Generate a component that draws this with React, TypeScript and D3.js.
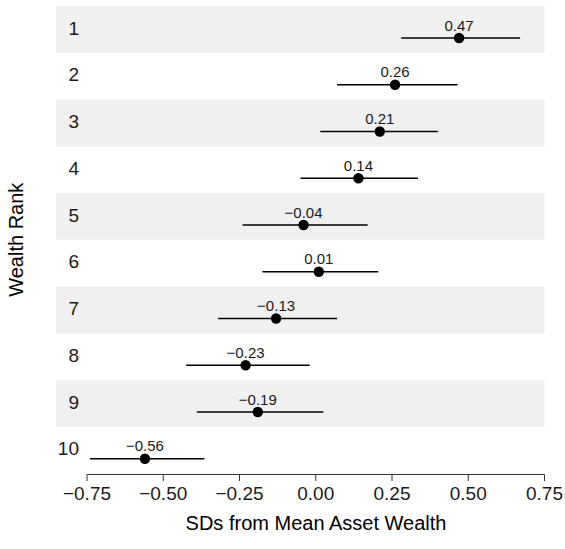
import * as d3 from "d3";

const ranks = ["1", "2", "3", "4", "5", "6", "7", "8", "9", "10"];
const estimates = [0.47, 0.26, 0.21, 0.14, -0.04, 0.01, -0.13, -0.23, -0.19, -0.56];
const lower = [0.28, 0.07, 0.015, -0.05, -0.24, -0.175, -0.32, -0.425, -0.39, -0.74];
const upper = [0.67, 0.465, 0.4, 0.335, 0.17, 0.205, 0.07, -0.02, 0.025, -0.365];
const xTicks = [-0.75, -0.5, -0.25, 0, 0.25, 0.5, 0.75];

const W = 565;
const H = 549;
const font = "'Liberation Sans', Arial, sans-serif";

const fmt = (v: number) => {
  const s = d3.format(".2f")(Math.abs(v));
  return v < 0 ? "\u2212" + s : s;
};

export default function App() {
  const x = d3.scaleLinear().domain([-0.75, 0.75]).range([87, 544.5]);
  const y = d3.scaleBand().domain(ranks).range([6, 473.5]).padding(0);
  const bw = y.bandwidth();
  const axisY = 474.5;

  return (
    <svg width={W} height={H} style={{ position: "absolute", left: 0, top: 0 }} fontFamily={font}>
      {/* alternating row bands */}
      {ranks.map((r, i) =>
        i % 2 === 0 ? (
          <rect key={"b" + r} x={56} y={y(r)!} width={544.5 - 56} height={bw} fill="#f0f0f0" />
        ) : null
      )}
      {/* rank labels */}
      {ranks.map((r) => (
        <text key={"l" + r} x={79} y={y(r)! + 22} fontSize={19} textAnchor="end" dominantBaseline="central" fill="#1a1a1a">
          {r}
        </text>
      ))}
      {/* estimates with intervals */}
      {ranks.map((r, i) => {
        const cy = y(r)! + 32;
        return (
          <g key={"p" + r}>
            <line x1={x(lower[i])} x2={x(upper[i])} y1={cy} y2={cy} stroke="#000" strokeWidth={1.6} />
            <circle cx={x(estimates[i])} cy={cy} r={5.2} fill="#000" />
            <text x={x(estimates[i])} y={cy - 13} fontSize={15} textAnchor="middle" dominantBaseline="central" fill="#1a1a1a">
              {fmt(estimates[i])}
            </text>
          </g>
        );
      })}
      {/* x axis */}
      <line x1={x(-0.75)} x2={x(0.75)} y1={axisY} y2={axisY} stroke="#333" strokeWidth={1} />
      {xTicks.map((t) => (
        <g key={"t" + t}>
          <line x1={x(t)} x2={x(t)} y1={axisY} y2={axisY + 6.5} stroke="#333" strokeWidth={1} />
          <text x={x(t)} y={axisY + 19} fontSize={19} textAnchor="middle" dominantBaseline="central" fill="#1a1a1a">
            {fmt(t)}
          </text>
        </g>
      ))}
      <text x={316} y={523} fontSize={20} textAnchor="middle" dominantBaseline="central" fill="#000">
        SDs from Mean Asset Wealth
      </text>
      <text transform={`translate(16,${(6 + 473.5) / 2}) rotate(-90)`} fontSize={20} textAnchor="middle" dominantBaseline="central" fill="#000">
        Wealth Rank
      </text>
    </svg>
  );
}
